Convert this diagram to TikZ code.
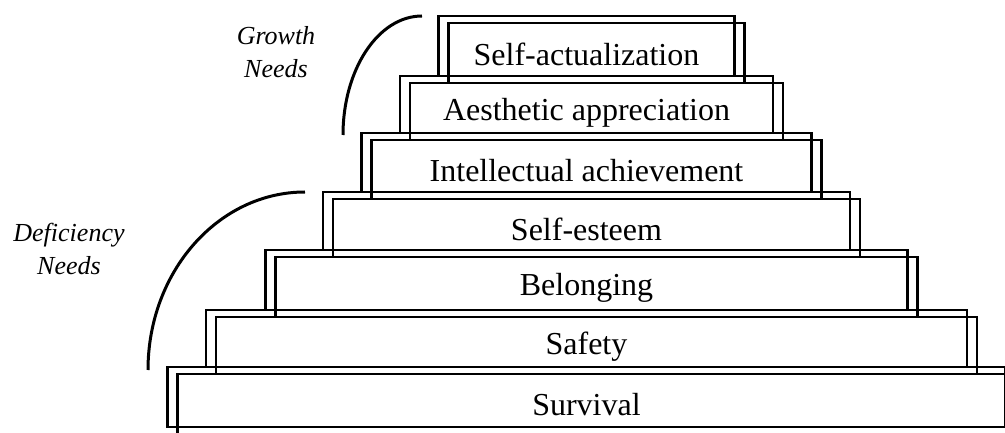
\documentclass[tikz,border=0pt]{standalone}
\usepackage{fontspec}
\setmainfont{Liberation Serif}

\begin{document}
\begin{tikzpicture}[x=1pt,y=-1pt]
    \tikzset{stepbox/.style = {shape=rectangle, draw, line width=2.8pt, inner sep=0pt}}
    \tikzset{steptext/.style = {inner sep=0pt, font=\fontsize{32}{32}\selectfont}}
    \tikzset{bracket/.style = {draw, line width=3pt}}
    \tikzset{group/.style = {align=center, font=\fontsize{26}{33}\selectfont\itshape}}

    \useasboundingbox (0,0) rectangle (1005,433);
    \clip (0,0) rectangle (1005,433);

    % steps: name / half width / top / bottom / label
    \foreach \name/\hw/\top/\bot/\txt in {
        act/148/16/76/Self-actualization,
        aes/186.5/76/133/Aesthetic appreciation,
        int/225/133/192/Intellectual achievement,
        est/263.5/192/250/Self-esteem,
        bel/321/250/310/Belonging,
        saf/380.5/310/367/Safety,
        sur/419/367/427/Survival} {
        \node[stepbox, minimum width=2*\hw, minimum height=\bot-\top] (\name-b) at (586.5, {(\top+\bot)/2}) {};
        \node[stepbox, minimum width=2*\hw, minimum height=\bot-\top] (\name-f) at (596.5, {(\top+\bot)/2+7}) {};
        \node[steptext] (\name) at (586.5, {(\top+\bot)/2+8}) {\txt};
    }

    % group labels
    \node[group] (growth) at (276,52) {Growth\\Needs};
    \node[group] (deficiency) at (69,249) {Deficiency\\Needs};

    % brackets
    \draw[bracket] (422,16) arc[start angle=270, end angle=180, x radius=79, y radius=119];
    \draw[bracket] (305,192) arc[start angle=270, end angle=180, x radius=157, y radius=178];
\end{tikzpicture}
\end{document}
